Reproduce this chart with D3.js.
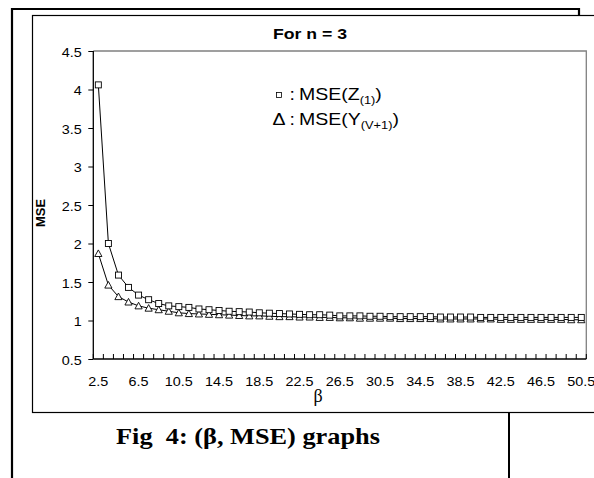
<!DOCTYPE html>
<html><head><meta charset="utf-8">
<script src="https://cdn.jsdelivr.net/npm/d3@7"></script>
<style>html,body{margin:0;padding:0;background:#fff;overflow:hidden}</style>
</head><body><svg id="c" width="594" height="478"></svg>
<script>
const betas = [2.5,3.5,4.5,5.5,6.5,7.5,8.5,9.5,10.5,11.5,12.5,13.5,14.5,15.5,16.5,17.5,18.5,19.5,20.5,21.5,22.5,23.5,24.5,25.5,26.5,27.5,28.5,29.5,30.5,31.5,32.5,33.5,34.5,35.5,36.5,37.5,38.5,39.5,40.5,41.5,42.5,43.5,44.5,45.5,46.5,47.5,48.5,49.5,50.5];
const mseZ = [4.06,2.00,1.59,1.43,1.33,1.27,1.22,1.19,1.18,1.17,1.15,1.14,1.13,1.12,1.115,1.11,1.10,1.095,1.09,1.085,1.08,1.075,1.075,1.07,1.06,1.06,1.06,1.055,1.055,1.05,1.05,1.05,1.05,1.05,1.045,1.045,1.045,1.045,1.04,1.04,1.04,1.04,1.04,1.04,1.04,1.04,1.04,1.04,1.04];
const mseY = [1.87,1.46,1.31,1.24,1.19,1.16,1.14,1.12,1.10,1.09,1.085,1.08,1.075,1.07,1.065,1.06,1.06,1.055,1.05,1.05,1.045,1.045,1.04,1.04,1.035,1.035,1.03,1.03,1.03,1.03,1.025,1.025,1.025,1.025,1.02,1.02,1.02,1.02,1.02,1.02,1.015,1.015,1.015,1.015,1.015,1.015,1.015,1.01,1.01];
const yTicks = [0.5,1,1.5,2,2.5,3,3.5,4,4.5];
const xTickLabels = [2.5,6.5,10.5,14.5,18.5,22.5,26.5,30.5,34.5,38.5,42.5,46.5,50.5];
const titleText = "For n = 3";
const yTitle = "MSE";
const xTitle = "β";
const caption = "Fig  4: (β, MSE) graphs";

const svg = d3.select("#c");
const X0 = 93.3, X1 = 586.3, Y0 = 359, Y1 = 51;
const SX = 1.15;

// outer frame (document frame)
svg.append("path").attr("d","M12,478 L12,9 L579,9 L579,16").attr("fill","none").attr("stroke","#000").attr("stroke-width",2.2);
svg.append("line").attr("x1",509).attr("x2",509).attr("y1",412).attr("y2",478).attr("stroke","#000").attr("stroke-width",2);
// chart frame
svg.append("rect").attr("x",32.5).attr("y",15.5).attr("width",600).attr("height",397).attr("fill","#fff").attr("stroke","#000").attr("stroke-width",1.2);

const x = d3.scaleBand().domain(betas).range([X0, X1]).paddingInner(0).paddingOuter(0);
const y = d3.scaleLinear().domain([0.5, 4.5]).range([Y0, Y1]);

// plot area border (top/right gray)
svg.append("path").attr("d",`M${X0},${Y1} L${X1},${Y1} L${X1},${Y0}`).attr("fill","none").attr("stroke","#808080").attr("stroke-width",1.3);

// y axis
const ya = svg.append("g").attr("transform",`translate(${X0},0)`)
  .call(d3.axisLeft(y).tickValues(yTicks).tickSize(5).tickPadding(6).tickFormat(d=>String(d)));
ya.select(".domain").remove();
ya.selectAll(".tick line").attr("stroke","#000");
ya.selectAll("text").attr("font-family","Arial, 'Liberation Sans', sans-serif").attr("font-size",12.5).attr("fill","#000")
  .attr("x",-11.5/SX).attr("transform",`scale(${SX},1)`).attr("dy","0.42em");
svg.append("line").attr("x1",X0).attr("x2",X0).attr("y1",Y1).attr("y2",Y0).attr("stroke","#000").attr("stroke-width",1.3);

// x axis tick marks at category boundaries (inside)
const bw = x.bandwidth();
const bounds = betas.map(b => x(b)).concat([x(betas[betas.length-1]) + bw]);
svg.append("g").selectAll("line").data(bounds).join("line")
  .attr("x1",d=>d).attr("x2",d=>d).attr("y1",Y0).attr("y2",Y0-5).attr("stroke","#000").attr("stroke-width",1);
const xa = svg.append("g").attr("transform",`translate(0,${Y0})`)
  .call(d3.axisBottom(x).tickValues(xTickLabels).tickSize(0).tickPadding(18.5).tickFormat(d=>String(d)));
xa.select(".domain").remove();
xa.selectAll("text").attr("font-family","Arial, 'Liberation Sans', sans-serif").attr("font-size",12.5).attr("fill","#000")
  .attr("transform",`scale(${SX},1)`);
svg.append("line").attr("x1",X0).attr("x2",X1).attr("y1",Y0).attr("y2",Y0).attr("stroke","#000").attr("stroke-width",1.3);

// series
const cx = b => x(b) + bw/2;
const line = d3.line().x(d=>cx(d[0])).y(d=>y(d[1]));
const dataZ = betas.map((b,i)=>[b,mseZ[i]]);
const dataY = betas.map((b,i)=>[b,mseY[i]]);
svg.append("path").datum(dataZ).attr("d",line).attr("fill","none").attr("stroke","#000").attr("stroke-width",1);
svg.append("path").datum(dataY).attr("d",line).attr("fill","none").attr("stroke","#000").attr("stroke-width",1);
svg.append("g").selectAll("path").data(dataY).join("path")
  .attr("d",d=>{const px=cx(d[0]),py=y(d[1]);return `M${px-3.6},${py+3} L${px+3.6},${py+3} L${px},${py-3.6} Z`;})
  .attr("fill","#fff").attr("stroke","#000").attr("stroke-width",0.9);
svg.append("g").selectAll("rect").data(dataZ).join("rect")
  .attr("x",d=>cx(d[0])-3).attr("y",d=>y(d[1])-3).attr("width",6).attr("height",6)
  .attr("fill","#fff").attr("stroke","#000").attr("stroke-width",0.9);

// title
svg.append("text").attr("x",310).attr("y",38.5).attr("text-anchor","middle")
  .attr("font-family","Arial, 'Liberation Sans', sans-serif").attr("font-weight","bold").attr("font-size",14)
  .attr("textLength",74).attr("lengthAdjust","spacingAndGlyphs").text(titleText);

// y title
svg.append("text").attr("transform","translate(45,213) rotate(-90)").attr("text-anchor","middle")
  .attr("font-family","Arial, 'Liberation Sans', sans-serif").attr("font-weight","bold").attr("font-size",12.5)
  .attr("textLength",28).attr("lengthAdjust","spacingAndGlyphs").text(yTitle);

// x title
svg.append("text").attr("x",318).attr("y",402).attr("text-anchor","middle")
  .attr("font-family","'Liberation Serif','Times New Roman',serif").attr("font-size",18).text(xTitle);

// caption
svg.append("text").attr("x",248).attr("y",444).attr("text-anchor","middle")
  .attr("font-family","'Liberation Serif','Times New Roman',serif").attr("font-weight","bold").attr("font-size",23)
  .style("white-space","pre").attr("xml:space","preserve")
  .attr("textLength",264).attr("lengthAdjust","spacingAndGlyphs").text(caption);

// legend
const LF = "Arial, 'Liberation Sans', sans-serif";
const LS = 1.22;
svg.append("rect").attr("x",276.5).attr("y",92.5).attr("width",5).attr("height",5).attr("fill","#fff").attr("stroke","#000").attr("stroke-width",0.8);
svg.append("text").attr("transform",`translate(272.5,125) scale(${LS},1)`).attr("font-family",LF).attr("font-size",16).text("Δ");
svg.append("text").attr("transform",`translate(289.5,100) scale(${LS},1)`).attr("font-family",LF).attr("font-size",16).text(":");
svg.append("text").attr("transform",`translate(289.5,125) scale(${LS},1)`).attr("font-family",LF).attr("font-size",16).text(":");
const l1 = svg.append("text").attr("transform",`translate(299,100) scale(${LS},1)`).attr("font-family",LF).attr("font-size",16);
l1.append("tspan").text("MSE(Z");
l1.append("tspan").attr("font-size",10.5).attr("dy",4).text("(1)");
l1.append("tspan").attr("dy",-4).text(")");
const l2 = svg.append("text").attr("transform",`translate(299,125) scale(${LS},1)`).attr("font-family",LF).attr("font-size",16);
l2.append("tspan").text("MSE(Y");
l2.append("tspan").attr("font-size",10.5).attr("dy",4).text("(V+1)");
l2.append("tspan").attr("dy",-4).text(")");
</script>
</body></html>
